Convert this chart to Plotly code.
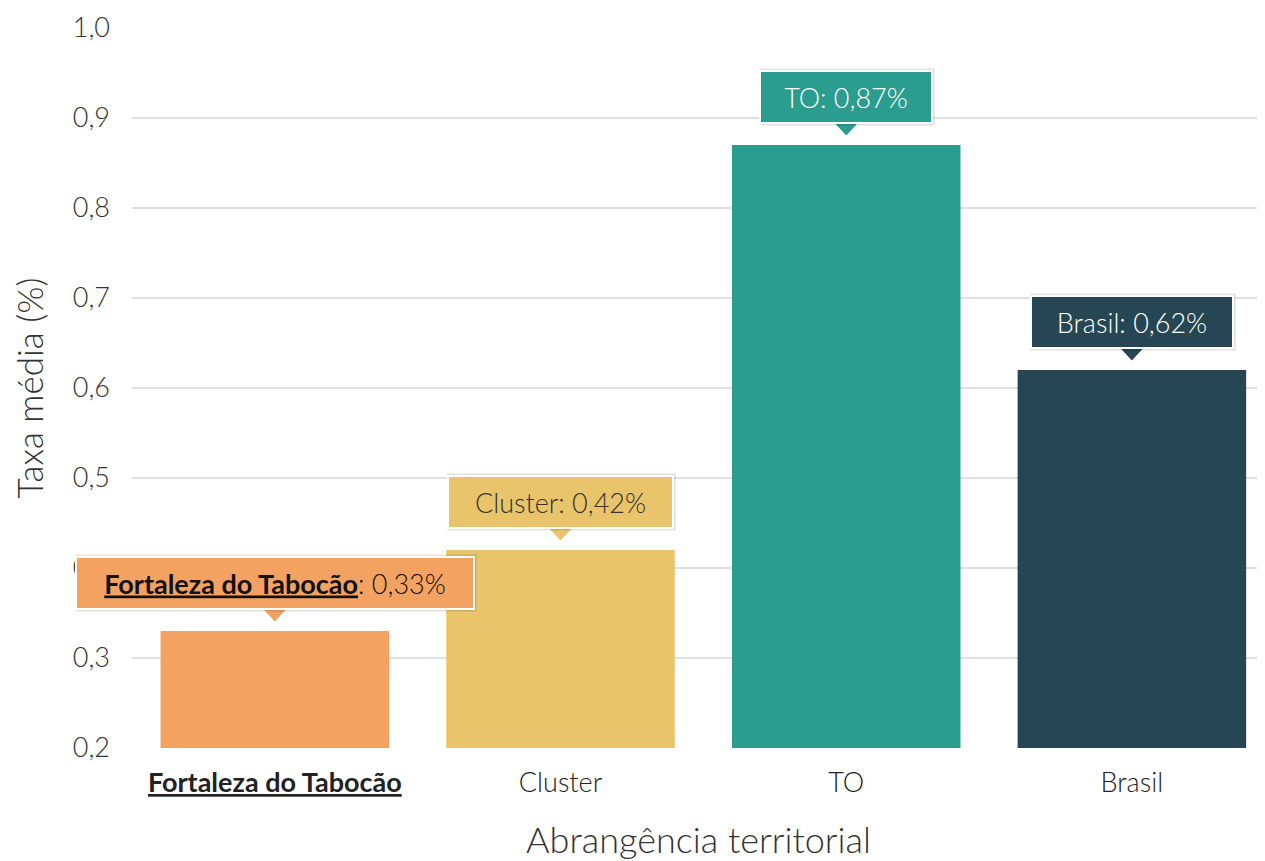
import plotly.graph_objects as go

categories = ["Fortaleza do Tabocão", "Cluster", "TO", "Brasil"]
values = [0.33, 0.42, 0.87, 0.62]
BOLD = '<span style="font-family:Lato;font-weight:700"><b><u>{}</u></b></span>'
tick_labels = [BOLD.format("Fortaleza do Tabocão"), "Cluster", "TO", "Brasil"]
callout_names = [BOLD.format("Fortaleza do Tabocão"), "Cluster", "TO", "Brasil"]

colors = ["#F4A261", "#E9C46A", "#2A9D8F", "#264653"]
text_colors = ["#111111", "#333333", "#ffffff", "#ffffff"]
box_widths = [396, 223, 170, 200]

FONT = "Lato Light, Lato"

fig = go.Figure()
fig.add_trace(go.Bar(
    x=list(range(len(categories))), y=values,
    marker=dict(color=colors, line=dict(width=0)),
    width=0.8, hoverinfo="skip",
))

for i, (v, name) in enumerate(zip(values, callout_names)):
    label = f"{name}: {v:.2f}%".replace(".", ",")
    # soft shadow
    fig.add_annotation(x=i, y=v, xref="x", yref="y", text=label, showarrow=False,
                       yanchor="bottom", yshift=19, xshift=1,
                       font=dict(family=FONT, size=27, color="rgba(0,0,0,0)", weight=300),
                       bgcolor="rgba(0,0,0,0.12)", borderpad=0, borderwidth=3,
                       bordercolor="rgba(0,0,0,0.06)", width=box_widths[i], height=52)
    fig.add_annotation(x=i, y=v, xref="x", yref="y", text=label, showarrow=False,
                       yanchor="bottom", yshift=21,
                       font=dict(family=FONT, size=27, color=text_colors[i], weight=300),
                       bgcolor=colors[i], borderpad=0, borderwidth=2,
                       bordercolor="#ffffff", width=box_widths[i], height=50)
    # pointer triangle with white outline on its two sides
    fig.add_shape(type="path", xref="x", yref="y", xsizemode="pixel", ysizemode="pixel",
                  xanchor=i, yanchor=v,
                  path="M -14 23 L 0 8 L 14 23",
                  fillcolor=colors[i], line=dict(width=2, color="#ffffff"), layer="above")
    fig.add_shape(type="path", xref="x", yref="y", xsizemode="pixel", ysizemode="pixel",
                  xanchor=i, yanchor=v,
                  path="M -12 24 L 0 10.5 L 12 24 Z",
                  fillcolor=colors[i], line=dict(width=0), layer="above")

fig.update_layout(
    width=1257, height=853,
    margin=dict(l=124, r=0, t=20, b=113),
    paper_bgcolor="white", plot_bgcolor="white",
    separators=",.",
    showlegend=False,
    font=dict(family=FONT, color="#333333", weight=300),
    bargap=0.2,
)
fig.update_xaxes(
    range=[-0.5, 3.466],
    tickmode="array", tickvals=list(range(len(categories))), ticktext=tick_labels,
    tickfont=dict(family=FONT, size=27, color="#222222", weight=300),
    ticks="", showgrid=False, zeroline=False, showline=False,
    ticklabelstandoff=16,
    title=dict(text="Abrangência territorial", font=dict(family=FONT, size=36, color="#333333", weight=300), standoff=39),
)
fig.update_yaxes(
    range=[0.2, 1.0], dtick=0.1, tick0=0.2, tickformat=".1f",
    tickfont=dict(family=FONT, size=27, color="#333333", weight=300),
    showgrid=True, gridcolor="#e0e0e0", gridwidth=1.5,
    zeroline=False, showline=False, ticks="",
    ticklabelstandoff=21,
    title=dict(text="Taxa média (%)", font=dict(family=FONT, size=35, color="#333333", weight=300), standoff=26),
)

fig.write_html("out.html")
